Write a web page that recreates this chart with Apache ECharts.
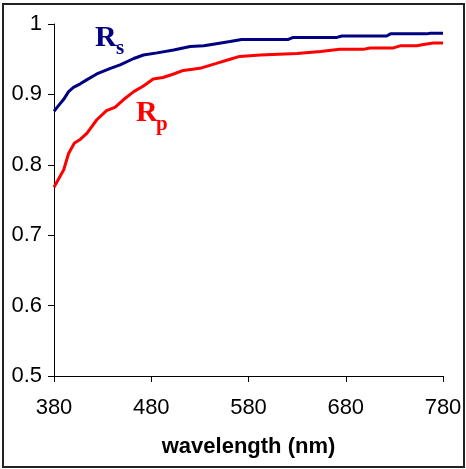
<!DOCTYPE html>
<html>
<head>
<meta charset="utf-8">
<script src="https://cdn.jsdelivr.net/npm/echarts@6/dist/echarts.min.js"></script>
<style>html,body{margin:0;padding:0;background:#fff}#c{width:466px;height:469px}</style>
</head>
<body>
<div id="c"></div>
<script>
const rsWavelengths = [380,384,390,395,400,407,414,424,438,448,462,472,486,503,520,534,547,561,573,621,626,671,676,722,726,763,767,780];
const rsValues      = [0.876,0.883,0.893,0.904,0.910,0.915,0.921,0.929,0.937,0.942,0.951,0.956,0.959,0.963,0.968,0.969,0.972,0.975,0.978,0.978,0.981,0.981,0.983,0.983,0.986,0.986,0.987,0.987];
const rpWavelengths = [380,384,390,395,401,407,414,424,434,443,451,462,472,482,492,503,513,530,547,561,571,592,630,654,674,698,705,729,736,753,760,770,780];
const rpValues      = [0.768,0.778,0.793,0.816,0.831,0.836,0.845,0.864,0.877,0.882,0.892,0.904,0.912,0.922,0.924,0.929,0.934,0.937,0.944,0.950,0.954,0.956,0.958,0.961,0.964,0.964,0.966,0.966,0.969,0.969,0.971,0.973,0.973];
const xTicks = [380,480,580,680,780];
const yTicks = [0.5,0.6,0.7,0.8,0.9,1];
const xTitle = 'wavelength (nm)';
const seriesNames = ['Rs','Rp'];

const pair = (xs, ys) => xs.map((x, i) => [x, ys[i]]);
const font = 'Liberation Sans, Arial, sans-serif';
const serif = '"Liberation Serif", "Times New Roman", serif';
const chart = echarts.init(document.getElementById('c'), null, {renderer: 'canvas'});
chart.setOption({
  animation: false,
  backgroundColor: '#fff',
  grid: {left: 54, right: 23, top: 24, bottom: 93},
  xAxis: {
    type: 'value', min: xTicks[0], max: xTicks[xTicks.length-1], interval: 100,
    name: xTitle, nameLocation: 'middle', nameGap: 60,
    nameTextStyle: {fontFamily: font, fontWeight: 'bold', fontSize: 22, color: '#000'},
    axisLine: {lineStyle: {color: '#000', width: 1}},
    axisTick: {show: true, inside: false, length: 6, lineStyle: {color: '#000'}},
    axisLabel: {fontFamily: font, fontSize: 22, color: '#000', margin: 21},
    splitLine: {show: false}
  },
  yAxis: {
    type: 'value', min: yTicks[0], max: yTicks[yTicks.length-1], interval: 0.1,
    axisLine: {show: true, lineStyle: {color: '#000', width: 1}},
    axisTick: {show: true, inside: false, length: 6, lineStyle: {color: '#000'}},
    axisLabel: {fontFamily: font, fontSize: 22, color: '#000', margin: 12},
    splitLine: {show: false}
  },
  series: [
    {name: seriesNames[0], type: 'line', data: pair(rsWavelengths, rsValues), showSymbol: false,
     lineStyle: {color: '#000080', width: 3}, itemStyle: {color: '#000080'}},
    {name: seriesNames[1], type: 'line', data: pair(rpWavelengths, rpValues), showSymbol: false,
     lineStyle: {color: '#ff0000', width: 3}, itemStyle: {color: '#ff0000'}}
  ],
  graphic: [
    {type: 'rect', shape: {x: 3, y: 4, width: 461, height: 463}, style: {fill: 'none', stroke: '#222', lineWidth: 2}, silent: true},
    {type: 'text', x: 95, y: 53, style: {text: 'R', font: 'bold 30px ' + serif, fill: '#000080', textVerticalAlign: 'bottom'}},
    {type: 'text', x: 116, y: 59, style: {text: 's', font: 'bold 21px ' + serif, fill: '#000080', textVerticalAlign: 'bottom'}},
    {type: 'text', x: 136, y: 128, style: {text: 'R', font: 'bold 30px ' + serif, fill: '#ff0000', textVerticalAlign: 'bottom'}},
    {type: 'text', x: 156, y: 135, style: {text: 'p', font: 'bold 21px ' + serif, fill: '#ff0000', textVerticalAlign: 'bottom'}}
  ]
});
</script>
</body>
</html>
